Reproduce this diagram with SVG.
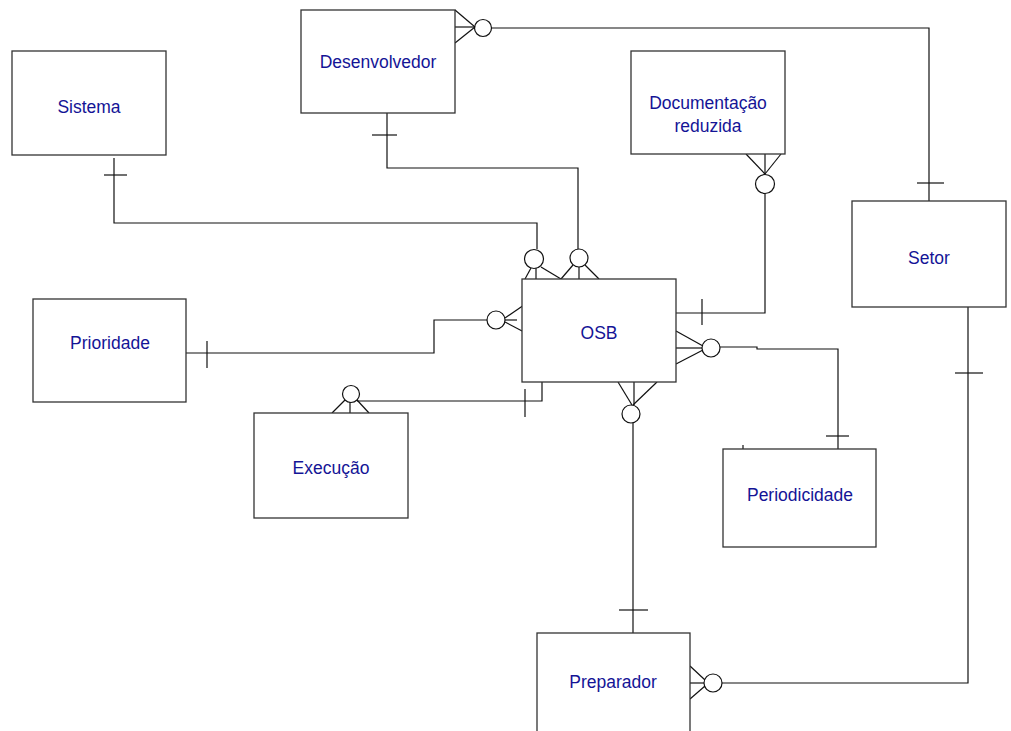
<svg xmlns="http://www.w3.org/2000/svg" width="1011" height="731" viewBox="0 0 1011 731">
<style>
.box{fill:#fff;stroke:#333;stroke-width:1.3}
.lbl{font-family:"Liberation Sans",Arial,sans-serif;font-size:17.5px;fill:#141496;text-anchor:middle}
.ln{fill:none;stroke:#111;stroke-width:1.2}
.c{fill:#fff;stroke:#111;stroke-width:1.2}
</style>
<rect width="1011" height="731" fill="#fff"/>
<g id="connectors">
  <!-- Sistema - OSB -->
  <polyline class="ln" points="114,158 114,223 537,223 537,249"/>
  <line class="ln" x1="104" y1="175" x2="127" y2="175"/>
  <circle class="c" cx="534" cy="259" r="9.5"/>
  <line class="ln" x1="525" y1="279" x2="531" y2="268"/>
  <line class="ln" x1="536" y1="268" x2="536" y2="279"/>
  <line class="ln" x1="541" y1="267" x2="561" y2="279"/>
  <!-- Desenvolvedor - OSB -->
  <polyline class="ln" points="387,113 387,168 578,168 578,249"/>
  <line class="ln" x1="372" y1="135" x2="397" y2="135"/>
  <circle class="c" cx="579" cy="258" r="9"/>
  <line class="ln" x1="561" y1="279" x2="573" y2="265"/>
  <line class="ln" x1="579" y1="267" x2="579" y2="279"/>
  <line class="ln" x1="585" y1="265" x2="599" y2="279"/>
  <!-- Desenvolvedor - Setor -->
  <polyline class="ln" points="492,28 929,28 929,201"/>
  <line class="ln" x1="917" y1="183" x2="944" y2="183"/>
  <circle class="c" cx="483" cy="28" r="8.5"/>
  <line class="ln" x1="455" y1="10" x2="475" y2="27"/>
  <line class="ln" x1="455" y1="27" x2="475" y2="27"/>
  <line class="ln" x1="455" y1="43" x2="475" y2="27"/>
  <!-- Documentacao - OSB -->
  <polyline class="ln" points="765,193 765,313 676,313"/>
  <line class="ln" x1="702" y1="299" x2="702" y2="325"/>
  <circle class="c" cx="765" cy="184" r="9.5"/>
  <line class="ln" x1="746" y1="154" x2="765" y2="174"/>
  <line class="ln" x1="765" y1="154" x2="765" y2="174"/>
  <line class="ln" x1="781" y1="154" x2="765" y2="174"/>
  <!-- Prioridade - OSB -->
  <polyline class="ln" points="487,320 434,320 434,353 186,353"/>
  <line class="ln" x1="207" y1="341" x2="207" y2="368"/>
  <circle class="c" cx="496" cy="320" r="9"/>
  <line class="ln" x1="524" y1="305" x2="505" y2="318"/>
  <line class="ln" x1="517" y1="320" x2="505" y2="320"/>
  <line class="ln" x1="524" y1="332" x2="505" y2="322"/>
  <!-- Execucao - OSB -->
  <polyline class="ln" points="357,401 542,401 542,382"/>
  <line class="ln" x1="525" y1="389" x2="525" y2="417"/>
  <circle class="c" cx="351" cy="394" r="8.5"/>
  <line class="ln" x1="332" y1="413" x2="345" y2="400"/>
  <line class="ln" x1="350" y1="402" x2="350" y2="413"/>
  <line class="ln" x1="369" y1="413" x2="357" y2="400"/>
  <!-- OSB - Periodicidade -->
  <polyline class="ln" points="720,347 757,347 757,349 838,349 838,449"/>
  <line class="ln" x1="826" y1="436" x2="849" y2="436"/>
  <circle class="c" cx="711" cy="348" r="9"/>
  <line class="ln" x1="676" y1="331" x2="703" y2="346"/>
  <line class="ln" x1="676" y1="348" x2="702" y2="348"/>
  <line class="ln" x1="676" y1="364" x2="703" y2="350"/>
  <line class="ln" x1="743" y1="445" x2="743" y2="449"/>
  <!-- OSB - Preparador -->
  <polyline class="ln" points="633,423 633,633"/>
  <line class="ln" x1="619" y1="610" x2="648" y2="610"/>
  <circle class="c" cx="631" cy="414" r="9"/>
  <line class="ln" x1="618" y1="382" x2="632" y2="405"/>
  <line class="ln" x1="634" y1="382" x2="634" y2="405"/>
  <line class="ln" x1="657" y1="382" x2="633" y2="405"/>
  <!-- Setor - Preparador -->
  <polyline class="ln" points="968,307 968,683 722,683"/>
  <line class="ln" x1="955" y1="373" x2="983" y2="373"/>
  <circle class="c" cx="713" cy="683" r="9"/>
  <line class="ln" x1="690" y1="666" x2="705" y2="680"/>
  <line class="ln" x1="690" y1="683" x2="704" y2="683"/>
  <line class="ln" x1="690" y1="699" x2="705" y2="686"/>
</g>
<g id="sistema"><rect class="box" x="12" y="51" width="154" height="104"/><text class="lbl" x="89" y="113">Sistema</text></g>
<g id="desenvolvedor"><rect class="box" x="301" y="10" width="154" height="103"/><text class="lbl" x="378" y="68">Desenvolvedor</text></g>
<g id="documentacao"><rect class="box" x="631" y="51" width="154" height="103"/><text class="lbl" x="708" y="109">Documentação</text><text class="lbl" x="708" y="132">reduzida</text></g>
<g id="setor"><rect class="box" x="852" y="201" width="154" height="106"/><text class="lbl" x="929" y="264">Setor</text></g>
<g id="osb"><rect class="box" x="522" y="279" width="154" height="103"/><text class="lbl" x="599" y="339">OSB</text></g>
<g id="prioridade"><rect class="box" x="33" y="299" width="153" height="103"/><text class="lbl" x="110" y="349">Prioridade</text></g>
<g id="execucao"><rect class="box" x="254" y="413" width="154" height="105"/><text class="lbl" x="331" y="474">Execução</text></g>
<g id="periodicidade"><rect class="box" x="723" y="449" width="153" height="98"/><text class="lbl" x="800" y="501">Periodicidade</text></g>
<g id="preparador"><rect class="box" x="537" y="633" width="153" height="110"/><text class="lbl" x="613" y="688">Preparador</text></g>
</svg>
